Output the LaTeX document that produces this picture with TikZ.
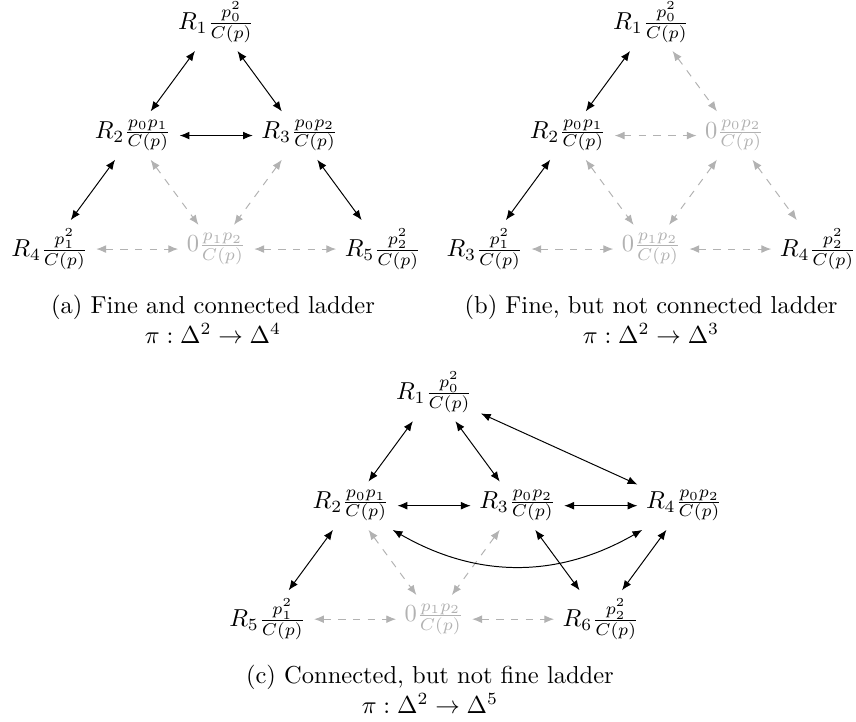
\documentclass[tikz,border=0pt]{standalone}
\usetikzlibrary{arrows.meta}
\usepackage{amsmath}

\begin{document}
\begin{tikzpicture}[
        >={Latex[length=4pt,width=3.2pt]},
        state/.style={inner sep=3.33pt},
        zero/.style={state, text=black!30},
        link/.style={<->},
        ghost/.style={<->, dashed, black!30},
        subcap/.style={align=center, anchor=north}
    ]
    \useasboundingbox (0,0) rectangle (349.2pt,-294.2pt);

    % (a) fine and connected
    \begin{scope}[shift={(20.2pt,-9pt)}, x=34pt, y=46.3pt]
    \node[state] (a1) at (2,0) {$R_1\frac{p_0^2}{C(p)}$};
    \node[state] (a2) at (1,-1) {$R_2\frac{p_0p_1}{C(p)}$};
    \node[state] (a3) at (3,-1) {$R_3\frac{p_0p_2}{C(p)}$};
    \node[state] (a4) at (0,-2) {$R_4\frac{p_1^2}{C(p)}$};
    \node[zero] (a0) at (2,-2) {$0{\frac{p_1p_2}{C(p)}}$};
    \node[state] (a5) at (4,-2) {$R_5\frac{p_2^2}{C(p)}$};
    \end{scope}
    \draw[ghost] (a2) -- (a0);
    \draw[ghost] (a3) -- (a0);
    \draw[ghost] (a4) -- (a0);
    \draw[ghost] (a0) -- (a5);
    \draw[link] (a1) -- (a2);
    \draw[link] (a1) -- (a3);
    \draw[link] (a2) -- (a3);
    \draw[link] (a2) -- (a4);
    \draw[link] (a3) -- (a5);
    \node[subcap] (capa) at (86.9pt,-116.9pt) {(a) Fine and connected ladder\\$\pi:\Delta^2\to\Delta^4$};

    % (b) fine, not connected
    \begin{scope}[shift={(197.7pt,-9pt)}, x=34pt, y=46.3pt]
    \node[state] (b1) at (2,0) {$R_1\frac{p_0^2}{C(p)}$};
    \node[state] (b2) at (1,-1) {$R_2\frac{p_0p_1}{C(p)}$};
    \node[zero] (bz) at (3,-1) {$0{\frac{p_0p_2}{C(p)}}$};
    \node[state] (b3) at (0,-2) {$R_3\frac{p_1^2}{C(p)}$};
    \node[zero] (b0) at (2,-2) {$0{\frac{p_1p_2}{C(p)}}$};
    \node[state] (b4) at (4,-2) {$R_4\frac{p_2^2}{C(p)}$};
    \end{scope}
    \draw[ghost] (b1) -- (bz);
    \draw[ghost] (b2) -- (bz);
    \draw[ghost] (b2) -- (b0);
    \draw[ghost] (bz) -- (b0);
    \draw[ghost] (bz) -- (b4);
    \draw[ghost] (b3) -- (b0);
    \draw[ghost] (b0) -- (b4);
    \draw[link] (b1) -- (b2);
    \draw[link] (b2) -- (b3);
    \node[subcap] (capb) at (265.6pt,-116.9pt) {(b) Fine, but not connected ladder\\$\pi:\Delta^2\to\Delta^3$};

    % (c) connected, not fine
    \begin{scope}[shift={(109.1pt,-160pt)}, x=34pt, y=46.3pt]
    \node[state] (c1) at (2,0) {$R_1\frac{p_0^2}{C(p)}$};
    \node[state] (c2) at (1,-1) {$R_2\frac{p_0p_1}{C(p)}$};
    \node[state] (c3) at (3,-1) {$R_3\frac{p_0p_2}{C(p)}$};
    \node[state] (c4) at (5,-1) {$R_4\frac{p_0p_2}{C(p)}$};
    \node[state] (c5) at (0,-2) {$R_5\frac{p_1^2}{C(p)}$};
    \node[zero] (c0) at (2,-2) {$0{\frac{p_1p_2}{C(p)}}$};
    \node[state] (c6) at (4,-2) {$R_6\frac{p_2^2}{C(p)}$};
    \end{scope}
    \draw[ghost] (c2) -- (c0);
    \draw[ghost] (c3) -- (c0);
    \draw[ghost] (c5) -- (c0);
    \draw[ghost] (c0) -- (c6);
    \draw[link] (c1) -- (c2);
    \draw[link] (c1) -- (c3);
    \draw[link] (c1) -- (c4);
    \draw[link] (c2) -- (c3);
    \draw[link] (c3) -- (c4);
    \draw[link] (c2) to[bend right=30] (c4);
    \draw[link] (c2) -- (c5);
    \draw[link] (c3) -- (c6);
    \draw[link] (c4) -- (c6);
    \node[subcap] (capc) at (175.4pt,-267.9pt) {(c) Connected, but not fine ladder\\$\pi:\Delta^2\to\Delta^5$};
\end{tikzpicture}
\end{document}
